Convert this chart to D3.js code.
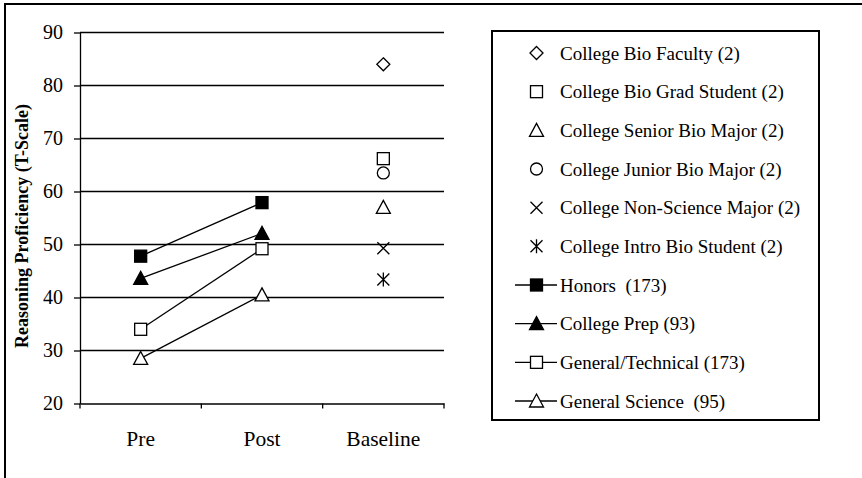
<!DOCTYPE html>
<html>
<head>
<meta charset="utf-8">
<script src="https://cdn.jsdelivr.net/npm/d3@7"></script>
<style>
  html, body { margin: 0; padding: 0; background: #fff; }
  svg { display: block; }
  text { font-family: "Liberation Serif", "Times New Roman", serif; fill: #000; white-space: pre; }
</style>
</head>
<body>
<svg id="chart" width="862" height="478"></svg>
<script>
// Categories along the x axis
const categories = ["Pre", "Post", "Baseline"];
const yTicks = [20, 30, 40, 50, 60, 70, 80, 90];

// High-school groups measured before and after instruction
const lineSeries = [
  { name: "Honors  (173)", symbol: "square", filled: true, values: [47.8, 57.9] },
  { name: "College Prep (93)", symbol: "triangle", filled: true, values: [43.6, 52.1] },
  { name: "General/Technical (173)", symbol: "square", filled: false, values: [34.0, 49.2] },
  { name: "General Science  (95)", symbol: "triangle", filled: false, values: [28.5, 40.5] }
];

// College baseline groups
const baselineNames = [
  "College Bio Faculty (2)",
  "College Bio Grad Student (2)",
  "College Senior Bio Major (2)",
  "College Junior Bio Major (2)",
  "College Non-Science Major (2)",
  "College Intro Bio Student (2)"
];
const baselineSymbols = ["diamond", "square", "triangle", "circle", "cross", "asterisk"];
const baselineValues = [84.0, 66.2, 57.0, 63.5, 49.3, 43.4];

const svg = d3.select("#chart");

// outer frame (left and top edges)
svg.append("path").attr("d", "M5,478 V4 H862")
  .attr("fill", "none").attr("stroke", "#000").attr("stroke-width", 2);

const plot = { left: 80, right: 444, top: 32.5, bottom: 403.5 };

const x = d3.scaleBand().domain(categories).range([plot.left, plot.right]);
const y = d3.scaleLinear().domain([20, 90]).range([plot.bottom, plot.top]);

// horizontal grid lines
svg.append("g").selectAll("line").data(yTicks.filter(d => d > 20)).join("line")
  .attr("x1", plot.left).attr("x2", plot.right)
  .attr("y1", d => y(d)).attr("y2", d => y(d))
  .attr("stroke", "#000").attr("stroke-width", 1.3);

// y axis
const yAxis = svg.append("g").attr("transform", `translate(${plot.left},0)`)
  .call(d3.axisLeft(y).tickValues(yTicks).tickSize(6).tickPadding(11).tickSizeOuter(0));
yAxis.select(".domain").attr("stroke", "#000").attr("stroke-width", 1.3);
yAxis.selectAll(".tick line").attr("stroke", "#000").attr("stroke-width", 1.3);
yAxis.selectAll(".tick text").attr("font-size", 20).attr("font-family", "Liberation Serif");

// x axis
const xAxis = svg.append("g").attr("transform", `translate(0,${plot.bottom})`)
  .call(d3.axisBottom(x).tickSize(0).tickPadding(27).tickSizeOuter(0));
xAxis.select(".domain").attr("stroke", "#000").attr("stroke-width", 1.3);
xAxis.selectAll(".tick text").attr("font-size", 21.5).attr("font-family", "Liberation Serif");
// tick marks at band boundaries
const bounds = categories.map(c => x(c)).concat([x(categories[categories.length - 1]) + x.bandwidth()]);
svg.append("g").selectAll("line").data(bounds).join("line")
  .attr("x1", d => d).attr("x2", d => d)
  .attr("y1", plot.bottom).attr("y2", plot.bottom + 5)
  .attr("stroke", "#000").attr("stroke-width", 1.3);

// y axis title
svg.append("text")
  .attr("transform", `translate(28,${(plot.top + plot.bottom) / 2 + 8}) rotate(-90)`)
  .attr("text-anchor", "middle")
  .attr("font-size", 18).attr("font-weight", "bold")
  .text("Reasoning Proficiency (T-Scale)");

// marker drawing
function drawMarker(g, symbol, filled, cx, cy) {
  const fill = filled ? "#000" : "#fff";
  const sw = 1.3;
  if (symbol === "square") {
    const s = 12;
    g.append("rect").attr("x", cx - s / 2).attr("y", cy - s / 2).attr("width", s).attr("height", s)
      .attr("fill", fill).attr("stroke", "#000").attr("stroke-width", sw);
  } else if (symbol === "triangle") {
    const w = 14, h = 12;
    g.append("path").attr("d", `M${cx},${cy - h / 2 - 1} L${cx + w / 2},${cy + h / 2} L${cx - w / 2},${cy + h / 2} Z`)
      .attr("fill", fill).attr("stroke", "#000").attr("stroke-width", sw).attr("stroke-linejoin", "miter");
  } else if (symbol === "diamond") {
    const r = 6.5;
    g.append("path").attr("d", `M${cx},${cy - r} L${cx + r},${cy} L${cx},${cy + r} L${cx - r},${cy} Z`)
      .attr("fill", fill).attr("stroke", "#000").attr("stroke-width", sw);
  } else if (symbol === "circle") {
    g.append("circle").attr("cx", cx).attr("cy", cy).attr("r", 6)
      .attr("fill", fill).attr("stroke", "#000").attr("stroke-width", sw);
  } else if (symbol === "cross") {
    const r = 6;
    g.append("path").attr("d", `M${cx - r},${cy - r} L${cx + r},${cy + r} M${cx + r},${cy - r} L${cx - r},${cy + r}`)
      .attr("stroke", "#000").attr("stroke-width", sw).attr("fill", "none");
  } else if (symbol === "asterisk") {
    const r = 6;
    g.append("path").attr("d", `M${cx - r},${cy - r} L${cx + r},${cy + r} M${cx + r},${cy - r} L${cx - r},${cy + r} M${cx},${cy - r - 1} L${cx},${cy + r + 1}`)
      .attr("stroke", "#000").attr("stroke-width", sw).attr("fill", "none");
  }
}

const cx = c => x(c) + x.bandwidth() / 2;

// series lines and markers
const line = d3.line().x((d, i) => cx(categories[i])).y(d => y(d));
const seriesG = svg.append("g");
lineSeries.forEach(s => {
  seriesG.append("path").datum(s.values).attr("d", line)
    .attr("fill", "none").attr("stroke", "#000").attr("stroke-width", 1.3);
});
lineSeries.forEach(s => {
  s.values.forEach((v, i) => drawMarker(seriesG, s.symbol, s.filled, cx(categories[i]), y(v)));
});

// baseline points
const baseG = svg.append("g");
baselineValues.forEach((v, i) => drawMarker(baseG, baselineSymbols[i], false, cx("Baseline"), y(v)));

// legend
const legend = { left: 492, top: 31, right: 819, bottom: 420 };
svg.append("rect").attr("x", legend.left).attr("y", legend.top)
  .attr("width", legend.right - legend.left).attr("height", legend.bottom - legend.top)
  .attr("fill", "none").attr("stroke", "#000").attr("stroke-width", 2);

const legendItems = baselineNames.map((n, i) => ({ name: n, symbol: baselineSymbols[i], filled: false, line: false }))
  .concat(lineSeries.map(s => ({ name: s.name, symbol: s.symbol, filled: s.filled, line: true })));
const ly = d3.scalePoint().domain(d3.range(legendItems.length)).range([53, 401]);
const lg = svg.append("g");
legendItems.forEach((d, i) => {
  const yy = ly(i);
  if (d.line) {
    lg.append("line").attr("x1", 515).attr("x2", 557).attr("y1", yy).attr("y2", yy)
      .attr("stroke", "#000").attr("stroke-width", 1.3);
  }
  drawMarker(lg, d.symbol, d.filled, 536.5, yy);
  lg.append("text").attr("x", 560).attr("y", yy).attr("dy", "0.35em")
    .attr("font-size", 19).text(d.name);
});
</script>
</body>
</html>
